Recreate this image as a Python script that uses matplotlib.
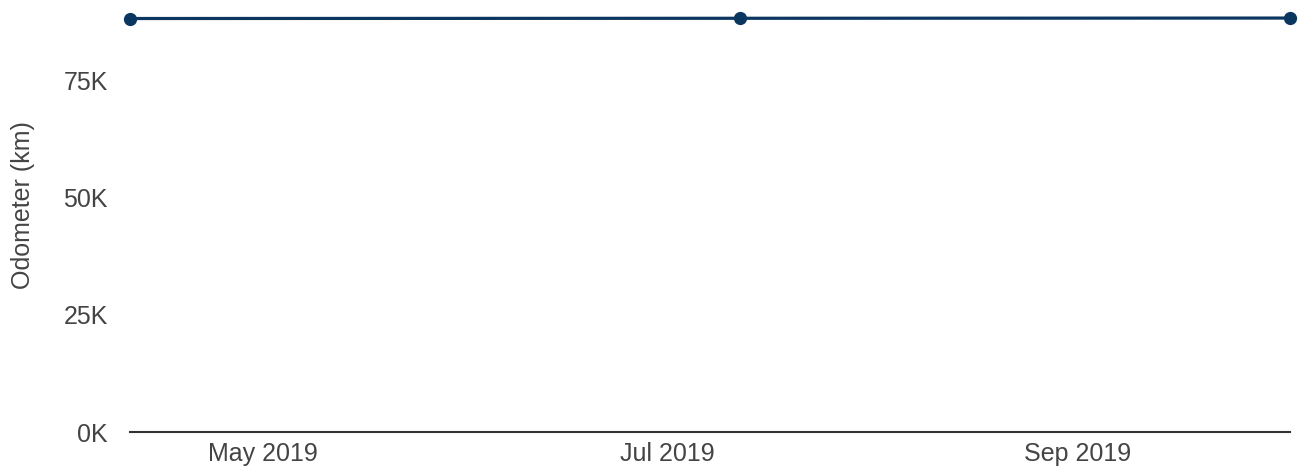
import datetime as dt
import matplotlib
matplotlib.use('Agg')
import matplotlib.pyplot as plt
import matplotlib.dates as mdates
from matplotlib.ticker import FuncFormatter

plt.rcParams['font.family'] = ['Liberation Sans', 'DejaVu Sans']

# odometer readings
dates = [dt.date(2019, 4, 11), dt.date(2019, 7, 12), dt.date(2019, 10, 3)]
odometer_km = [88350, 88400, 88450]
y_ticks = [0, 25000, 50000, 75000]
line_color = '#0b3660'
text_color = '#444444'

fig = plt.figure(figsize=(12.99, 4.68), dpi=100)
ax = fig.add_axes([130 / 1299, 1 - 432 / 468, 1160 / 1299, 422 / 468])

ax.plot(dates, odometer_km, color=line_color, lw=2.3, marker='o', ms=8.5,
        clip_on=False, zorder=3)

ax.set_xlim(dates[0], dates[-1])
ax.set_ylim(0, 90170)
ax.set_yticks(y_ticks)
ax.yaxis.set_major_formatter(FuncFormatter(lambda v, p: f'{v / 1000:.0f}K'))

ax.xaxis.set_major_locator(mdates.MonthLocator(bymonth=[5, 7, 9]))
ax.xaxis.set_major_formatter(mdates.DateFormatter('%b %Y'))

for s in ['top', 'right', 'left']:
    ax.spines[s].set_visible(False)
ax.spines['bottom'].set_color('#333333')
ax.spines['bottom'].set_linewidth(1.5)
ax.tick_params(axis='both', length=0, labelsize=18, labelcolor=text_color)
ax.tick_params(axis='x', pad=7)
ax.tick_params(axis='y', pad=16)

ax.set_ylabel('Odometer (km)', fontsize=18, color=text_color, labelpad=20.5)
ax.yaxis.label.set_y(0.538)

fig.savefig('out.png', dpi=100)
